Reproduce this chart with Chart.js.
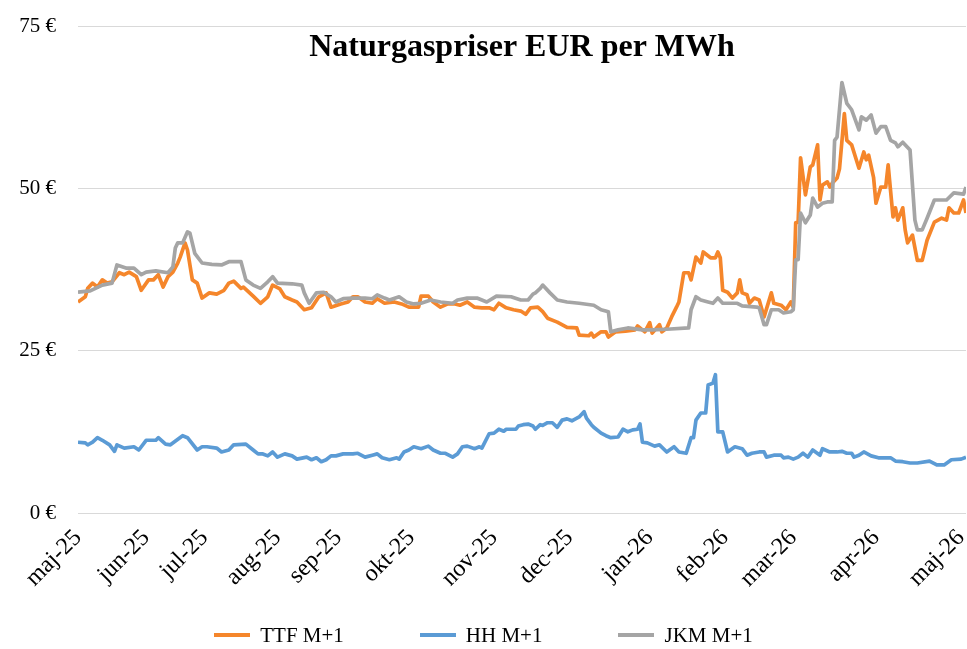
<!DOCTYPE html>
<html lang="da">
<head>
<meta charset="utf-8">
<title>Naturgaspriser EUR per MWh</title>
<script src="https://cdn.jsdelivr.net/npm/chart.js@4.4.0/dist/chart.umd.min.js"></script>
<style>
  html, body { margin: 0; padding: 0; background: #fff; }
  #wrap { position: relative; width: 967px; height: 649px; }
  #legend {
    position: absolute; left: 0; top: 620px; width: 967px; height: 30px;
    display: flex; justify-content: center; align-items: center; gap: 76px;
    font-family: "Liberation Serif", "Times New Roman", serif; font-size: 21px; color: #000;
  }
  #legend .item { display: flex; align-items: center; white-space: nowrap; }
  #legend .swatch { display: inline-block; width: 36px; height: 4px; margin-right: 10px; }
</style>
</head>
<body>
<div id="wrap">
  <canvas id="gasChart" width="967" height="649"></canvas>
  <div id="legend"></div>
</div>
<script>
// x = dage efter 1. maj 2025
const chartTitle = 'Naturgaspriser EUR per MWh';
const monthTicks = [0, 28, 52, 82, 107, 137, 171, 202, 235, 266, 294, 328, 363];
const monthLabels = ['maj-25', 'jun-25', 'jul-25', 'aug-25', 'sep-25', 'okt-25', 'nov-25',
                     'dec-25', 'jan-26', 'feb-26', 'mar-26', 'apr-26', 'maj-26'];
const yTicks = [0, 25, 50, 75];

const ttfDays = [0,3,4,6,8,10,12,14,17,19,21,24,26,29,31,33,35,37,39,41,42,44,45,47,49,51,54,57,60,62,
  64,67,68,72,75,78,80,83,85,88,90,93,96,99,102,104,108,111,113,115,118,121,123,126,130,133,136,140,141,144,
  146,149,152,155,157,160,163,166,169,171,173,176,179,182,184,186,189,191,193,197,201,205,206,210,211,212,215,217,218,221,
  225,229,230,233,235,236,239,240,242,244,246,247,249,251,252,254,256,257,260,262,263,264,265,267,269,271,272,273,275,276,
  278,280,282,285,286,289,291,293,294,295,296,297,299,301,302,304,305,306,308,309,310,312,313,315,316,318,321,323,324,325,
  327,328,330,332,333,335,336,337,339,340,341,343,345,347,349,352,355,357,358,360,362,364,365];
const ttfValues = [32.5,33.3,34.6,35.4,34.8,35.9,35.4,35.6,37.0,36.7,37.1,36.4,34.3,35.9,35.9,36.7,34.8,36.4,37.1,38.5,39.4,41.6,40.5,35.9,35.4,33.1,33.9,33.7,34.3,35.4,
  35.7,34.6,34.8,33.4,32.3,33.3,35.1,34.5,33.3,32.8,32.5,31.3,31.6,33.3,33.9,31.7,32.2,32.5,33.3,33.3,32.5,32.3,33.0,32.3,32.5,32.2,31.7,31.7,33.4,33.4,
  32.5,31.7,32.2,32.2,32.0,32.5,31.7,31.6,31.6,31.3,32.3,31.6,31.3,31.1,30.6,31.6,31.7,31.0,30.0,29.4,28.6,28.5,27.4,27.3,27.7,27.1,27.9,27.9,27.1,27.9,
  28.0,28.2,28.8,27.9,29.3,27.7,29.0,27.9,28.5,30.2,31.7,32.5,37.0,37.0,35.9,39.4,38.5,40.2,39.3,39.3,40.2,39.3,34.3,34.0,33.1,33.9,35.9,33.9,33.6,32.3,
  33.1,32.8,30.2,33.9,32.3,32.0,31.3,32.5,31.7,44.7,44.8,54.7,49.0,53.3,53.6,56.7,48.2,50.5,51.0,50.2,50.8,51.6,53.0,61.5,57.4,56.7,53.1,55.6,54.4,55.1,
  51.7,47.7,50.2,50.2,53.6,45.6,47.0,45.1,47.0,43.6,41.6,42.8,38.9,38.9,42.0,44.8,45.4,45.1,47.0,46.2,46.2,48.2,46.2];

const hhDays = [0,3,4,6,8,10,13,15,16,19,23,25,28,32,33,36,38,43,45,49,51,53,57,59,62,64,69,72,74,76,
  78,80,82,85,88,90,94,96,98,100,102,104,106,109,113,115,118,121,123,125,128,131,132,134,136,138,141,144,146,149,
  151,154,156,158,160,163,165,166,169,171,173,175,176,180,181,183,185,187,188,190,191,193,195,197,199,201,203,206,208,209,
  211,212,215,217,219,222,224,226,228,230,231,232,234,237,239,242,245,247,250,252,253,254,256,258,259,261,262,263,265,267,
  270,273,275,277,280,282,283,286,289,290,292,294,296,298,300,302,305,306,309,312,314,316,318,319,321,323,326,329,332,334,
  336,339,342,345,350,353,356,359,363,365];
const hhValues = [10.9,10.8,10.5,10.9,11.6,11.2,10.5,9.5,10.5,10.0,10.2,9.7,11.2,11.2,11.6,10.6,10.5,11.9,11.6,9.7,10.2,10.2,10.0,9.4,9.7,10.5,10.6,9.7,9.1,9.1,
  8.8,9.4,8.6,9.1,8.8,8.3,8.6,8.2,8.5,7.9,8.2,8.8,8.8,9.1,9.1,9.2,8.6,8.9,9.1,8.5,8.2,8.5,8.3,9.4,9.7,10.2,9.9,10.3,9.7,9.2,
  9.2,8.6,9.1,10.2,10.3,9.9,10.2,10.0,12.2,12.3,12.9,12.6,12.9,12.9,13.4,13.6,13.7,13.4,12.9,13.6,13.5,13.9,13.9,13.2,14.3,14.5,14.2,14.8,15.6,14.6,
  13.6,13.2,12.3,11.9,11.6,11.7,12.9,12.5,12.8,12.9,13.7,10.9,10.8,10.3,10.5,9.4,10.2,9.4,9.2,11.6,11.6,14.3,15.4,15.4,19.7,20.0,21.3,12.5,12.5,9.4,
  10.2,9.9,8.9,9.2,9.4,9.4,8.6,8.9,8.9,8.5,8.6,8.3,8.6,9.2,8.6,9.7,8.9,9.9,9.4,9.4,9.5,9.2,9.2,8.6,8.9,9.4,8.8,8.5,8.5,8.5,
  8.0,7.9,7.7,7.7,8.0,7.4,7.4,8.2,8.3,8.6];

const jkmDays = [0,5,10,14,16,20,23,26,28,32,37,39,40,41,43,45,46,48,51,55,59,62,67,69,72,75,78,80,82,88,
  92,93,95,98,101,104,106,109,113,118,121,123,126,128,132,135,138,141,145,149,154,156,160,164,168,172,178,182,185,187,
  188,190,191,194,197,201,206,212,215,218,219,222,226,232,236,242,251,252,254,256,259,261,263,265,268,271,273,279,280,282,
  283,285,288,290,293,294,295,296,297,299,301,302,304,306,308,310,311,312,314,316,318,321,322,324,326,328,330,332,334,336,
  337,339,342,344,345,347,349,352,357,360,364,365];
const jkmValues = [34.0,34.2,35.1,35.4,38.2,37.7,37.7,36.7,37.1,37.3,37.0,37.9,40.8,41.6,41.6,43.3,43.1,40.0,38.5,38.3,38.2,38.7,38.7,35.9,35.1,34.6,35.6,36.4,35.4,35.3,
  35.1,33.9,32.3,33.9,34.0,33.3,32.5,33.0,33.1,33.1,33.0,33.6,33.1,32.8,33.3,32.5,32.2,32.3,32.8,32.5,32.3,32.8,33.1,33.1,32.5,33.4,33.3,32.8,32.8,33.7,
  33.9,34.6,35.1,33.9,32.8,32.5,32.3,32.0,31.3,31.0,27.9,28.2,28.5,28.2,28.2,28.3,28.5,31.3,33.3,32.8,32.5,32.3,33.1,32.3,32.3,32.3,31.9,31.7,31.6,29.0,
  29.0,31.3,31.3,30.8,31.0,31.3,39.0,39.0,46.2,44.7,45.9,48.5,47.1,47.7,47.9,47.9,57.4,57.9,66.3,63.1,62.1,59.0,61.0,60.5,61.3,58.5,59.5,59.5,57.4,57.0,
  56.4,57.1,55.9,45.1,43.6,43.6,45.4,48.2,48.2,49.3,49.1,50.2];

const seriesNames = ['TTF M+1', 'HH M+1', 'JKM M+1'];
const seriesColors = ['#F5862B', '#5B9BD5', '#A5A5A5'];

function toPoints(days, values) {
    return days.map((d, i) => ({ x: d, y: values[i] }));
}

// Titlen ligger inde i plotområdet ligesom i Excel
const innerTitle = {
    id: 'innerTitle',
    afterDraw(chart) {
        const { ctx, chartArea } = chart;
        ctx.save();
        ctx.font = 'bold 32px "Liberation Serif"';
        ctx.fillStyle = '#000';
        ctx.textAlign = 'center';
        ctx.textBaseline = 'middle';
        ctx.fillText(chartTitle, (chartArea.left + chartArea.right) / 2, chartArea.top + 22);
        ctx.restore();
    }
};

// Forklaring som HTML under grafen
const htmlLegend = {
    id: 'htmlLegend',
    afterUpdate(chart) {
        const box = document.getElementById('legend');
        box.innerHTML = '';
        chart.data.datasets.forEach(ds => {
            const item = document.createElement('span');
            item.className = 'item';
            const swatch = document.createElement('span');
            swatch.className = 'swatch';
            swatch.style.background = ds.borderColor;
            item.appendChild(swatch);
            item.appendChild(document.createTextNode(ds.label));
            box.appendChild(item);
        });
    }
};

Chart.defaults.font.family = '"Liberation Serif", "Times New Roman", serif';
Chart.defaults.color = '#000';

const ctx = document.getElementById('gasChart').getContext('2d');
new Chart(ctx, {
    type: 'line',
    data: {
        datasets: [
            { label: seriesNames[0], data: toPoints(ttfDays, ttfValues), order: 2 },
            { label: seriesNames[1], data: toPoints(hhDays, hhValues), order: 1 },
            { label: seriesNames[2], data: toPoints(jkmDays, jkmValues), order: 0 }
        ].map((ds, i) => Object.assign(ds, {
            borderColor: seriesColors[i],
            backgroundColor: seriesColors[i],
            borderWidth: 3.7,
            pointRadius: 0,
            tension: 0,
            borderJoinStyle: 'round'
        }))
    },
    options: {
        responsive: false,
        animation: false,
        layout: { padding: { top: 26, right: 1, left: 0, bottom: 44 } },
        plugins: {
            tooltip: { enabled: false },
            legend: { display: false }
        },
        scales: {
            x: {
                type: 'linear',
                min: 0,
                max: 365,
                grid: { display: false },
                border: { display: false },
                afterBuildTicks: axis => { axis.ticks = monthTicks.map(v => ({ value: v })); },
                afterFit: axis => { axis.height = 92; axis.paddingLeft = 0; axis.paddingRight = 0; },
                ticks: {
                    autoSkip: false,
                    minRotation: 45,
                    maxRotation: 45,
                    font: { size: 24 },
                    callback: (value, index) => monthLabels[index]
                }
            },
            y: {
                min: 0,
                max: 75,
                afterBuildTicks: axis => { axis.ticks = yTicks.map(v => ({ value: v })); },
                afterFit: axis => { axis.width = 78; axis.paddingTop = 0; axis.paddingBottom = 0; },
                grid: { color: '#D9D9D9', lineWidth: 1, drawTicks: false },
                border: { display: false },
                ticks: {
                    padding: 22,
                    font: { size: 21 },
                    callback: v => v + ' €'
                }
            }
        }
    },
    plugins: [innerTitle, htmlLegend]
});
</script>
</body>
</html>
